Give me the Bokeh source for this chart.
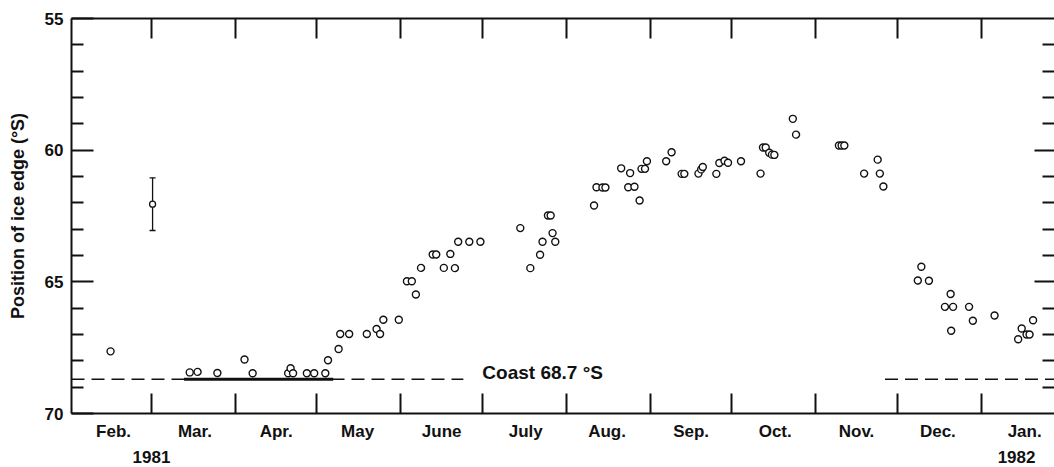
from bokeh.plotting import figure
from bokeh.models import Range1d, LinearAxis, FixedTicker, ColumnDataSource, Whisker, TeeHead
from bokeh.embed import file_html
from bokeh.resources import INLINE
from bokeh.core.properties import value

FONT = "Liberation Sans"
INK = "#111111"

# ---- data (x = days since 1 Feb 1981, y = latitude of ice edge, deg S) ----
obs_day = [12.9, 42.1, 45.0, 52.3, 62.3, 65.3, 78.4, 79.3, 80.2, 85.3, 88.0, 92.1,
           93.1, 97.0, 97.6, 100.9, 107.4, 111.0, 112.3, 113.5, 119.2, 122.2, 124.0,
           125.5, 127.4, 131.7, 133.0, 135.8, 138.2, 139.9, 141.1, 145.2, 149.3,
           164.0, 167.7, 171.3, 172.2, 174.2, 175.2, 175.9, 176.9, 191.2, 192.1,
           194.3, 195.4, 201.2, 203.8, 204.5, 206.1, 208.0, 208.7, 210.0, 210.7,
           217.8, 219.8, 223.5, 224.5, 229.7, 230.7, 231.3, 236.3, 237.4, 239.3,
           240.6, 245.4, 252.6, 253.5, 254.5, 255.8, 256.8, 257.7, 264.5, 265.7,
           281.5, 282.5, 283.5, 290.8, 295.8, 296.6, 297.9, 310.6, 311.9, 314.7,
           320.6, 322.7, 322.9, 323.6, 329.5, 330.9, 338.9, 347.6, 348.9, 350.7,
           351.8, 353.1]
obs_lat = [67.64, 68.44, 68.42, 68.46, 67.95, 68.47, 68.47, 68.28, 68.47, 68.47, 68.47, 68.47,
           67.98, 67.55, 66.98, 66.98, 66.98, 66.79, 66.98, 66.44, 66.44, 64.98, 64.98,
           65.48, 64.47, 63.96, 63.96, 64.47, 63.94, 64.48, 63.48, 63.48, 63.48,
           62.96, 64.48, 63.97, 63.48, 62.48, 62.48, 63.15, 63.48, 62.10, 61.41,
           61.42, 61.42, 60.69, 61.41, 60.87, 61.39, 61.91, 60.71, 60.71, 60.42,
           60.42, 60.08, 60.90, 60.90, 60.89, 60.73, 60.64, 60.90, 60.49, 60.40,
           60.48, 60.42, 60.89, 59.90, 59.90, 60.10, 60.17, 60.18, 58.81, 59.41,
           59.82, 59.82, 59.82, 60.89, 60.36, 60.89, 61.38, 64.95, 64.43, 64.96,
           65.95, 65.46, 66.86, 65.95, 65.95, 66.48, 66.28, 67.18, 66.77, 67.00,
           67.00, 66.46]

err_day = [28.4]
err_lat = [62.05]
err_half = [1.0]

month_names = ["Feb.", "Mar.", "Apr.", "May", "June", "July", "Aug.", "Sep.",
               "Oct.", "Nov.", "Dec.", "Jan."]
month_starts = [0, 28, 59, 89, 120, 150, 181, 212, 242, 273, 303, 334, 365]
year_names = ["1981", "1982"]
year_days = [28, 347]

lat_major = [55, 60, 65, 70]
lat_minor = [56, 57, 58, 59, 61, 62, 63, 64, 66, 67, 68, 69]

coast_lat = 68.7
coast_label = "Coast  68.7 °S"
coast_label_day = 150
coast_dash_start = [-1.5, 298.5]
coast_dash_end = [143, 361]
at_coast_start = [40]
at_coast_end = [95]

x_start, x_end = -1.5, 361

# ---- figure ----
p = figure(width=1054, height=467, output_backend="svg", toolbar_location=None,
           x_range=Range1d(x_start, x_end), y_range=Range1d(70, 55),
           x_axis_location=None, y_axis_location=None,
           min_border_left=71, min_border_right=0, min_border_top=18, min_border_bottom=54)
p.outline_line_color = None
p.xgrid.visible = False
p.ygrid.visible = False
p.background_fill_color = "white"
p.border_fill_color = "white"

def tick_style(ax):
    ax.axis_line_color = INK
    ax.axis_line_width = 2
    ax.major_tick_line_color = INK
    ax.major_tick_line_width = 2
    ax.minor_tick_line_color = INK
    ax.minor_tick_line_width = 2
    ax.major_tick_out = 0
    ax.minor_tick_out = 0

def hide_labels(ax):
    ax.major_label_text_color = None
    ax.major_label_text_font_size = "1px"
    ax.major_label_standoff = 0

left = LinearAxis(ticker=FixedTicker(ticks=lat_major, minor_ticks=lat_minor))
tick_style(left)
left.major_tick_in = 22
left.minor_tick_in = 12
left.major_label_text_font = FONT
left.major_label_text_font_style = "bold"
left.major_label_text_font_size = "17px"
left.major_label_text_color = INK
left.major_label_standoff = 8
left.axis_label = "Position of ice edge (°S)"
left.axis_label_text_font = FONT
left.axis_label_text_font_style = "bold"
left.axis_label_text_font_size = "18px"
left.axis_label_text_color = INK
left.axis_label_standoff = 14
p.add_layout(left, "left")

right = LinearAxis(ticker=FixedTicker(ticks=[60, 65], minor_ticks=lat_minor))
tick_style(right)
right.axis_line_color = None
right.major_tick_in = 20
right.minor_tick_in = 12
hide_labels(right)
p.add_layout(right, "right")

top = LinearAxis(ticker=FixedTicker(ticks=month_starts[1:12]))
tick_style(top)
top.major_tick_in = 20
hide_labels(top)
p.add_layout(top, "above")

bottom = LinearAxis(ticker=FixedTicker(ticks=month_starts[1:12]))
tick_style(bottom)
bottom.major_tick_in = 20
hide_labels(bottom)
p.add_layout(bottom, "below")

month_mid = [int(round((month_starts[i] + month_starts[i + 1]) / 2)) for i in range(12)]
names_axis = LinearAxis(ticker=FixedTicker(ticks=month_mid),
                        major_label_overrides={m: n for m, n in zip(month_mid, month_names)})
names_axis.axis_line_color = None
names_axis.major_tick_line_color = None
names_axis.major_tick_in = 0
names_axis.major_tick_out = 0
names_axis.major_label_text_font = FONT
names_axis.major_label_text_font_style = "bold"
names_axis.major_label_text_font_size = "17px"
names_axis.major_label_text_color = INK
names_axis.major_label_standoff = 8
p.add_layout(names_axis, "below")

year_axis = LinearAxis(ticker=FixedTicker(ticks=year_days),
                       major_label_overrides={d: n for d, n in zip(year_days, year_names)})
year_axis.axis_line_color = None
year_axis.major_tick_line_color = None
year_axis.major_tick_in = 0
year_axis.major_tick_out = 0
year_axis.major_label_text_font = FONT
year_axis.major_label_text_font_style = "bold"
year_axis.major_label_text_font_size = "17px"
year_axis.major_label_text_color = INK
year_axis.major_label_standoff = 7
p.add_layout(year_axis, "below")

# coast line
p.segment(x0=coast_dash_start, y0=[coast_lat] * len(coast_dash_start),
          x1=coast_dash_end, y1=[coast_lat] * len(coast_dash_end),
          line_color=INK, line_width=1.6, line_dash="13 7")
p.segment(x0=at_coast_start, y0=[coast_lat], x1=at_coast_end, y1=[coast_lat],
          line_color=INK, line_width=3)
p.text(x=[coast_label_day], y=[coast_lat], text=[coast_label],
       text_font=value(FONT), text_font_style="bold", text_font_size="19px",
       text_color=INK, text_baseline="middle", text_align="left", y_offset=-7)

# error bar observation
err_src = ColumnDataSource(dict(base=err_day,
                                lower=[a - b for a, b in zip(err_lat, err_half)],
                                upper=[a + b for a, b in zip(err_lat, err_half)]))
p.add_layout(Whisker(source=err_src, base="base", lower="lower", upper="upper",
                     dimension="height", line_color=INK, line_width=1.3,
                     upper_head=TeeHead(size=6, line_color=INK, line_width=1.3),
                     lower_head=TeeHead(size=6, line_color=INK, line_width=1.3)))
p.scatter(x=err_day, y=err_lat, marker="circle", size=6, fill_color="white",
          line_color=INK, line_width=1.3)

# ice edge observations
p.scatter(x=obs_day, y=obs_lat, marker="circle", size=7, fill_color="white",
          line_color=INK, line_width=1.4)

open("out.html", "w").write(file_html(p, INLINE))
